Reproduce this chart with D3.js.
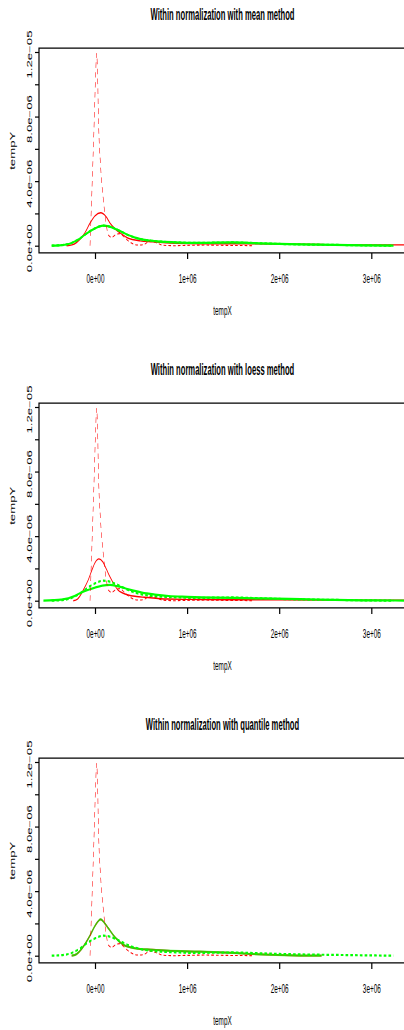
<!DOCTYPE html>
<html><head><meta charset="utf-8">
<script src="https://cdn.jsdelivr.net/npm/d3@7"></script>
<style>body{margin:0;background:#fff}svg{display:block}</style>
</head><body><svg id="c" width="404" height="1030"></svg>
<script>
// ---------- data ----------
const titles = ["Within normalization with mean method",
                "Within normalization with loess method",
                "Within normalization with quantile method"];
const xLabel = "tempX", yLabel = "tempY";
const xTickValues = [0, 1e6, 2e6, 3e6];
const xTickLabels = ["0e+00", "1e+06", "2e+06", "3e+06"];
const yTickValues = [0, 2e-6, 4e-6, 6e-6, 8e-6, 10e-6, 12e-6];
const yTickLabels = ["0.0e+00", "", "4.0e\u221206", "", "8.0e\u221206", "", "1.2e\u221205"];

// raw red channel density (dashed)
const redRawX = [-54000, -33000, -8000, 8000, 18000, 28000, 38000, 60000, 90000, 120000, 145000, 180000, 230000, 270000, 330000, 400000, 460000, 520000, 600000, 660000, 730000, 850000, 1000000, 1200000, 1400000, 1600000, 1720000];
const redRawY = [0, 3.5e-6, 7.8e-6, 10.8e-6, 11.9e-6, 10.6e-6, 7.8e-6, 5.0e-6, 2.9e-6, 1.4e-6, 0.66e-6, 0.52e-6, 0.7e-6, 0.75e-6, 0.45e-6, 0.15e-6, 0.04e-6, 0.06e-6, 0.28e-6, 0.2e-6, 0.04e-6, 0, 0.02e-6, 0.04e-6, 0.02e-6, 0.01e-6, 0];

// raw green channel density (equal to mean-normalized green)
const greenRawX = [-470000, -400000, -326000, -260000, -217000, -163000, -109000, -54000, 0, 50000, 90000, 140000, 185000, 240000, 290000, 360000, 435000, 520000, 620000, 750000, 870000, 1000000, 1140000, 1300000, 1500000, 1650000, 1790000, 2000000, 2230000, 2600000, 2900000, 3240000];
const greenRawY = [0, 0.02e-6, 0.06e-6, 0.15e-6, 0.27e-6, 0.45e-6, 0.68e-6, 0.9e-6, 1.07e-6, 1.2e-6, 1.24e-6, 1.21e-6, 1.13e-6, 1.0e-6, 0.86e-6, 0.66e-6, 0.5e-6, 0.38e-6, 0.3e-6, 0.24e-6, 0.21e-6, 0.18e-6, 0.17e-6, 0.19e-6, 0.2e-6, 0.18e-6, 0.15e-6, 0.11e-6, 0.08e-6, 0.05e-6, 0.025e-6, 0];

// mean method, red
const redMeanX = [-308000, -250000, -200000, -163000, -109000, -54000, 0, 62000, 120000, 163000, 217000, 290000, 360000, 490000, 620000, 870000, 1140000, 1500000, 1960000, 2450000, 2900000, 3360000];
const redMeanY = [0, 0.05e-6, 0.2e-6, 0.4e-6, 0.8e-6, 1.4e-6, 1.85e-6, 2.04e-6, 1.8e-6, 1.4e-6, 1.05e-6, 0.72e-6, 0.46e-6, 0.3e-6, 0.24e-6, 0.15e-6, 0.12e-6, 0.12e-6, 0.11e-6, 0.07e-6, 0.05e-6, 0.05e-6];

// loess method
const redLoessX = [-236000, -190000, -145000, -110000, -73000, -30000, 0, 43000, 85000, 127000, 165000, 200000, 250000, 300000, 360000, 450000, 540000, 660000, 790000, 1000000, 1500000, 2000000, 2500000, 3000000, 3360000];
const redLoessY = [0, 0.1e-6, 0.46e-6, 0.85e-6, 1.29e-6, 1.95e-6, 2.35e-6, 2.59e-6, 2.4e-6, 1.91e-6, 1.45e-6, 1.08e-6, 0.66e-6, 0.48e-6, 0.35e-6, 0.26e-6, 0.21e-6, 0.15e-6, 0.1e-6, 0.08e-6, 0.06e-6, 0.05e-6, 0.04e-6, 0.03e-6, 0.03e-6];
const greenLoessX = [-560000, -450000, -370000, -290000, -217000, -145000, -70000, 0, 80000, 163000, 240000, 326000, 420000, 510000, 650000, 800000, 1000000, 1160000, 1500000, 1800000, 2230000, 2600000, 3000000, 3360000];
const greenLoessY = [0, 0.03e-6, 0.07e-6, 0.15e-6, 0.3e-6, 0.52e-6, 0.68e-6, 0.81e-6, 0.93e-6, 0.98e-6, 0.9e-6, 0.77e-6, 0.62e-6, 0.5e-6, 0.38e-6, 0.29e-6, 0.24e-6, 0.21e-6, 0.18e-6, 0.14e-6, 0.1e-6, 0.05e-6, 0.02e-6, 0.01e-6];

// quantile method (red and green identical)
const quantX = [-253000, -200000, -145000, -100000, -54000, 0, 62000, 100000, 145000, 217000, 310000, 435000, 620000, 780000, 1140000, 1500000, 1870000, 2230000, 2460000];
const quantY = [0, 0.1e-6, 0.42e-6, 0.8e-6, 1.25e-6, 1.85e-6, 2.25e-6, 2.05e-6, 1.7e-6, 1.14e-6, 0.67e-6, 0.46e-6, 0.37e-6, 0.31e-6, 0.25e-6, 0.17e-6, 0.06e-6, 0.01e-6, 0];

// ---------- drawing ----------
const FONT = "'Liberation Sans', Arial, Helvetica, sans-serif";
const sx = 0.53, sy = 1.1;          // anisotropic device squeeze
const RED = "#ff0000", GREEN = "#00ff00";
const rawRed   = {x: redRawX, y: redRawY, color: RED, width: 1, dash: "5,4"};
const rawGreen = {x: greenRawX, y: greenRawY, color: GREEN, width: 2, dash: "5,4"};

const panels = [
  {title: titles[0], lines: [
    {x: redMeanX, y: redMeanY, color: RED, width: 1.3},
    {x: greenRawX, y: greenRawY, color: GREEN, width: 2},
    rawRed, rawGreen]},
  {title: titles[1], lines: [
    {x: redLoessX, y: redLoessY, color: RED, width: 1.3},
    {x: greenLoessX, y: greenLoessY, color: GREEN, width: 2},
    rawRed, rawGreen]},
  {title: titles[2], lines: [
    {x: quantX, y: quantY, color: RED, width: 1.6},
    {x: quantX, y: quantY, color: GREEN, width: 2, opacity: 0.72},
    rawRed, rawGreen]}
];

const svg = d3.select("#c");
const x = d3.scaleLinear().domain([0, 3e6]).range([95, 371.3]);

panels.forEach((p, i) => {
  const o = i * 355;
  const y = d3.scaleLinear().domain([0, 12e-6]).range([245.7 + o, 52 + o]);
  const g = svg.append("g");

  g.append("text")
    .attr("transform", `translate(222.5,${20 + o}) scale(${sx},${sy})`)
    .attr("text-anchor", "middle").attr("font-family", FONT)
    .attr("font-weight", "bold").attr("font-size", 14.4).attr("fill", "#000")
    .text(p.title);

  // curves drawn in device space then squeezed
  const xd = d3.scaleLinear().domain(x.domain()).range(x.range().map(v => v / sx));
  const yd = d3.scaleLinear().domain(y.domain()).range(y.range().map(v => v / sy));
  const cg = g.append("g").attr("transform", `scale(${sx},${sy})`);
  const line = d3.line().x(d => xd(d[0])).y(d => yd(d[1])).curve(d3.curveMonotoneX);
  p.lines.forEach(l => {
    cg.append("path").datum(l.x.map((v, j) => [v, l.y[j]]))
      .attr("d", line).attr("fill", "none")
      .attr("stroke", l.color).attr("stroke-width", l.width)
      .attr("stroke-dasharray", l.dash || null)
      .attr("stroke-opacity", l.opacity || 1)
      .attr("stroke-linejoin", "round");
  });

  const top = y(12.24e-6), bottom = y(-0.45e-6);
  g.append("path").attr("d", `M420,${top}H39V${bottom}H420`)
    .attr("fill", "none").attr("stroke", "#000").attr("stroke-width", 1.2);

  const xa = g.append("g").attr("transform", `translate(0,${bottom})`)
    .call(d3.axisBottom(x).tickValues(xTickValues).tickSize(6)
      .tickFormat((d, k) => xTickLabels[k]));
  xa.attr("font-family", FONT).attr("font-size", 12);
  xa.select(".domain").remove();
  xa.selectAll(".tick line").attr("stroke-width", 1.2);
  xa.selectAll(".tick text").attr("y", null).attr("dy", null).attr("fill", "#000")
    .attr("transform", `translate(0,30) scale(${sx},${sy})`);

  const ya = g.append("g").attr("transform", "translate(39,0)")
    .call(d3.axisLeft(y).tickValues(yTickValues).tickSize(4)
      .tickFormat((d, k) => yTickLabels[k]));
  ya.attr("font-family", FONT).attr("font-size", 12);
  ya.select(".domain").remove();
  ya.selectAll(".tick line").attr("stroke-width", 1.2);
  ya.selectAll(".tick text").attr("x", null).attr("dy", null).attr("fill", "#000")
    .attr("text-anchor", "middle")
    .attr("transform", `translate(-7.3,2) rotate(-90) scale(${sy},${sx})`);

  g.append("text")
    .attr("transform", `translate(222.5,${315 + o}) scale(${sx},${sy})`)
    .attr("text-anchor", "middle").attr("font-family", FONT)
    .attr("font-size", 12).attr("fill", "#000").text(xLabel);
  g.append("text")
    .attr("transform", `translate(14.7,${150.8 + o}) rotate(-90) scale(${sy},${sx})`)
    .attr("text-anchor", "middle").attr("font-family", FONT)
    .attr("font-size", 12).attr("fill", "#000").text(yLabel);
});
</script></body></html>
